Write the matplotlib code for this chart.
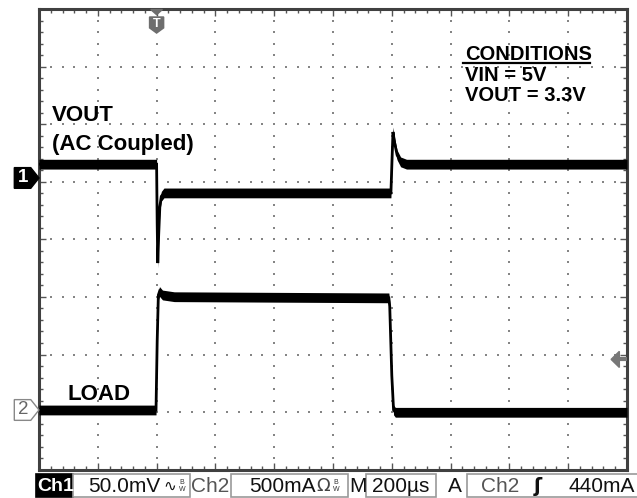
import numpy as np
import matplotlib
matplotlib.use("Agg")
import matplotlib.pyplot as plt
from matplotlib.patches import Polygon, Rectangle

plt.rcParams["font.family"] = ["Liberation Sans", "DejaVu Sans"]

# ---------------------------------------------------------------------------
# Scope settings
# ---------------------------------------------------------------------------
CH1_SCALE = 50.0      # mV / div
CH2_SCALE = 500.0     # mA / div
TIME_SCALE = 200.0    # us / div
TRIG_POS = 2.0        # trigger position, divisions from left
CH1_GND = 5.07        # ground marker position (div)
CH2_GND = 1.035
TRIG_LEVEL = 440.0    # mA

# VOUT (AC coupled), mV vs time in us
vout_t = [-400, 0, 2, 4, 7, 11, 16, 25, 797, 800, 804, 810, 818, 830, 850, 1600]
vout_mv = [12, 12, -40, -74, -50, -25, -16, -13, -13, 10, 40, 30, 20, 14, 12, 12]

# Load current, mA vs time in us
load_t = [-400, -2, 2, 6, 10, 20, 60, 790, 793, 800, 806, 812, 1600]
load_ma = [0, 0, 600, 1000, 1030, 1000, 985, 975, 900, 300, 0, -20, -20]

status_items = ["50.0mV", "500mA", "200\u00b5s", "440mA"]

# ---------------------------------------------------------------------------
# Figure / graticule
# ---------------------------------------------------------------------------
W, H = 637, 498
fig = plt.figure(figsize=(W / 100, H / 100), dpi=100)
ax = fig.add_axes([39 / W, 1 - 469.5 / H, 588 / W, 460 / H])
ax.set_xlim(0, 10)
ax.set_ylim(0, 8)

for s in ax.spines.values():
    s.set_color("#404040")
    s.set_linewidth(2.2)
ax.set_xticks(np.arange(0, 10.01, 1))
ax.set_yticks(np.arange(0, 8.01, 1))
ax.set_xticks(np.arange(0, 10.01, 0.2), minor=True)
ax.set_yticks(np.arange(0, 8.01, 0.2), minor=True)
ax.tick_params(which="both", direction="in", top=True, right=True,
               labelbottom=False, labelleft=False, color="#555555", width=1)
ax.tick_params(which="major", length=5)
ax.tick_params(which="minor", length=3)

dots = np.arange(0.2, 10, 0.2)
for gx in range(1, 10):
    yy = np.arange(0.2, 8, 0.2)
    ax.plot(np.full_like(yy, gx), yy, ls="none", marker="s", ms=1.5,
            mew=0, color="#858585")
for gy in range(1, 8):
    ax.plot(dots, np.full_like(dots, gy), ls="none", marker="s", ms=1.5,
            mew=0, color="#858585")

# ---------------------------------------------------------------------------
# Traces
# ---------------------------------------------------------------------------
def to_div(t, v, gnd, scale):
    x = np.asarray(t, float) / TIME_SCALE + TRIG_POS
    y = gnd + np.asarray(v, float) / scale
    return x, y

band = 0.085
for t, v, gnd, sc in [(vout_t, vout_mv, CH1_GND, CH1_SCALE),
                      (load_t, load_ma, CH2_GND, CH2_SCALE)]:
    x, y = to_div(t, v, gnd, sc)
    ax.fill_between(x, y - band, y + band, color="black", lw=0, zorder=3)
    ax.plot(x, y, color="black", lw=2.0, zorder=3, solid_joinstyle="miter")

# ---------------------------------------------------------------------------
# Channel / trigger markers
# ---------------------------------------------------------------------------
def ch_marker(y, label, filled):
    pts = [(-0.42, y + 0.18), (-0.14, y + 0.18), (0, y),
           (-0.14, y - 0.18), (-0.42, y - 0.18)]
    ax.add_patch(Polygon(pts, closed=True, clip_on=False, zorder=5,
                         facecolor="black" if filled else "white",
                         edgecolor="black" if filled else "#888888", lw=1))
    ax.text(-0.27, y, label, ha="center", va="center", clip_on=False,
            fontsize=13.5, fontweight="bold" if filled else "normal",
            color="white" if filled else "#666666", zorder=6)

ch_marker(CH1_GND, "1", True)
ch_marker(CH2_GND, "2", False)

ax.add_patch(Polygon([(TRIG_POS - 0.1, 8), (TRIG_POS + 0.1, 8), (TRIG_POS, 7.91)],
                     closed=True, color="#6e6e6e", clip_on=False, zorder=5))
ax.add_patch(Polygon([(TRIG_POS - 0.12, 7.87), (TRIG_POS + 0.12, 7.87),
                      (TRIG_POS + 0.12, 7.68), (TRIG_POS, 7.59),
                      (TRIG_POS - 0.12, 7.68)],
                     closed=True, color="#6e6e6e", zorder=5))
ax.text(TRIG_POS, 7.755, "T", ha="center", va="center", color="white",
        fontsize=9, fontweight="bold", zorder=6)

ty = CH2_GND + TRIG_LEVEL / CH2_SCALE
ax.add_patch(Polygon([(9.73, ty), (9.87, ty + 0.14), (9.87, ty - 0.14)],
                     closed=True, color="#777777", zorder=5))
ax.plot([9.86, 9.98], [ty, ty], color="#777777", lw=3, zorder=5)

# ---------------------------------------------------------------------------
# Annotations
# ---------------------------------------------------------------------------
ax.text(0.22, 6.06, "VOUT", fontsize=16, fontweight="bold", va="baseline")
ax.text(0.22, 5.56, "(AC Coupled)", fontsize=16, fontweight="bold", va="baseline")
ax.text(0.49, 1.21, "LOAD", fontsize=16, fontweight="bold", va="baseline")

ax.text(7.24, 7.13, "CONDITIONS", fontsize=14.5, fontweight="bold", va="baseline")
ax.plot([7.21, 9.37], [7.075, 7.075], color="black", lw=1.6)
ax.text(7.24, 6.76, "VIN = 5V", fontsize=14.5, fontweight="bold", va="baseline")
ax.text(7.24, 6.41, "VOUT = 3.3V", fontsize=14.5, fontweight="bold", va="baseline")

# ---------------------------------------------------------------------------
# Status bar
# ---------------------------------------------------------------------------
ty_bar = 1 - 486 / H
y0, y1 = 1 - 497 / H, 1 - 474 / H

def box(x0, x1, fc="white", ec="#9a9a9a"):
    fig.add_artist(Rectangle((x0 / W, y0), (x1 - x0) / W, y1 - y0,
                             transform=fig.transFigure, facecolor=fc,
                             edgecolor=ec, lw=1.2))

def label(x, s, size=15, color="#111111", **kw):
    fig.text(x / W, ty_bar, s, fontsize=size, color=color, va="center", **kw)

box(36, 73, fc="black", ec="black")
label(37, "Ch1", size=14, color="white", fontweight="bold")
box(73, 190)
label(88, status_items[0])
label(163, "\u223f", size=11, family=["DejaVu Sans"])
fig.text(179 / W, ty_bar, "B\nW", fontsize=5, va="center", color="#333333",
         linespacing=0.9)
label(191, "Ch2", color="#555555")
box(231, 348)
label(249, status_items[1])
label(316, "\u03a9", size=13, color="#444444", family=["DejaVu Sans"])
fig.text(333 / W, ty_bar, "B\nW", fontsize=5, va="center", color="#333333",
         linespacing=0.9)
label(349, "M")
box(366, 436)
label(372, status_items[2])
label(448, "A")
box(467, 645)
label(481, "Ch2", color="#555555")
label(534, "\u0283", size=14, fontweight="bold", family=["DejaVu Sans"])
label(635, status_items[3], ha="right")

fig.savefig("out.png", dpi=100, facecolor="white")
